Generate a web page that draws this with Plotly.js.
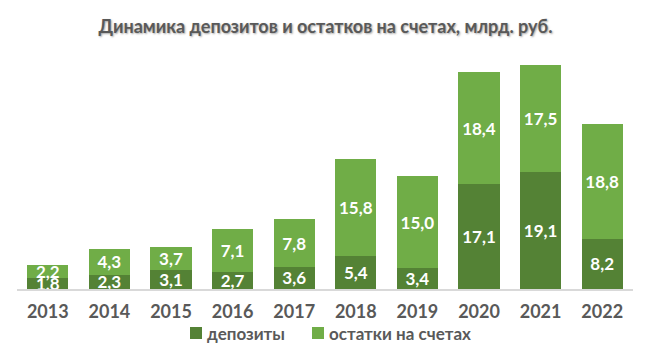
<!DOCTYPE html>
<html>
<head>
<meta charset="utf-8">
<script src="https://cdn.plot.ly/plotly-3.0.1.min.js"></script>
<style>html,body{margin:0;padding:0;background:#fff;}#chart{width:651px;height:361px;}</style>
</head>
<body>
<div id="chart"></div>
<script>
const years = ['2013','2014','2015','2016','2017','2018','2019','2020','2021','2022'];
const deposits = [1.8, 2.3, 3.1, 2.7, 3.6, 5.4, 3.4, 17.1, 19.1, 8.2];
const balances = [2.2, 4.3, 3.7, 7.1, 7.8, 15.8, 15.0, 18.4, 17.5, 18.8];
const seriesNames = ['депозиты', 'остатки на счетах'];
const seriesColors = ['#548235', '#70AD47'];

const fmt = v => v.toFixed(1).replace('.', ',');
const FONT = 'Lato, "Open Sans", sans-serif';

// plot area in pixels
const L = 17, R = 18, T = 50, B = 72, W = 651, H = 361;
const pw = W - L - R, ph = H - T - B;
const px = x => (x - L) / pw;
const py = y => (H - B - y) / ph;

function barTrace(i, vals) {
  return {
    type: 'bar', name: seriesNames[i], x: years, y: vals,
    marker: {color: seriesColors[i], line: {width: 0}},
    text: vals.map(fmt), textposition: 'inside', insidetextanchor: 'middle',
    constraintext: 'none', cliponaxis: false,
    textfont: {family: FONT, size: 17, color: '#ffffff', weight: 'bold'},
    hoverinfo: 'x+y', showlegend: false
  };
}

const data = [barTrace(0, deposits), barTrace(1, balances)];

// custom legend (squares + labels) to match compact spacing
const legendItems = [{sq: 190, tx: 205}, {sq: 312, tx: 327}];
const shapes = legendItems.map((it, i) => ({
  type: 'rect', xref: 'paper', yref: 'paper',
  x0: px(it.sq), x1: px(it.sq + 12), y0: py(339), y1: py(327),
  fillcolor: seriesColors[i], line: {width: 0}
}));
const annotations = legendItems.map((it, i) => ({
  xref: 'paper', yref: 'paper', x: px(it.tx), y: py(333),
  xanchor: 'left', yanchor: 'middle', showarrow: false,
  text: seriesNames[i],
  font: {family: FONT, size: 17, color: '#595959', weight: 'bold'}
}));

const layout = {
  width: W, height: H,
  margin: {l: L, r: R, t: T, b: B},
  paper_bgcolor: '#ffffff', plot_bgcolor: '#ffffff',
  barmode: 'stack', bargap: 0.33,
  title: {text: 'Динамика депозитов и остатков на счетах, млрд. руб.',
    font: {family: FONT, size: 18, color: '#595959', weight: 'bold', shadow: '1px 1px 2px rgba(0,0,0,0.35)'},
    x: 0.5, xanchor: 'center', y: 1 - 27 / H, yanchor: 'middle'},
  xaxis: {type: 'category', showgrid: false, zeroline: false,
    showline: true, linecolor: '#d9d9d9', linewidth: 1.5, ticks: '',
    ticklabelstandoff: 6,
    tickfont: {family: FONT, size: 18, color: '#595959', weight: 'bold'}},
  yaxis: {range: [0, 39.05], visible: false, showgrid: false, zeroline: false},
  showlegend: false,
  shapes: shapes,
  annotations: annotations
};

Plotly.newPlot('chart', data, layout, {displayModeBar: false, staticPlot: true});
</script>
</body>
</html>
